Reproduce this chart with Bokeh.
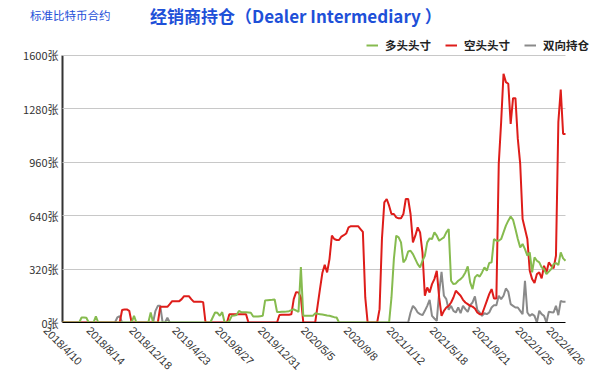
import pandas as pd
from bokeh.plotting import figure
from bokeh.layouts import column
from bokeh.models import (Range1d, FixedTicker, Legend, LegendItem, ColumnDataSource,
                          LinearAxis, Div)
from bokeh.embed import file_html
from bokeh.resources import INLINE
import math

# ---- data (weekly, 2018/4/10 .. 2022/4/26) ----
start_date = "2018-04-10"
n_weeks = 212

long_pos = (
    [0]*8 + [30, 30, 28, 0, 0, 0, 36, 0] + [0]*14 + [40, 0] + [0]*5 + [60, 0]
    + [0]*24
    + [30, 60, 58, 40, 62, 0, 0, 10, 40, 42, 45, 69, 62, 62, 62, 60, 58, 36, 36, 36, 38, 40,
       132, 134, 135, 136, 138, 63, 63, 64, 65, 66, 68, 74, 79, 72, 63, 332, 40, 40, 40, 40, 40,
       55, 52, 50, 48, 45, 42, 40, 36, 32, 30, 0]
    + [0]*21
    + [150, 380, 520, 510, 480, 360, 380, 425, 430, 410, 380, 350, 330, 370, 400, 480, 504, 500,
       540, 520, 490, 500, 510, 540, 560, 250, 230, 234, 250, 260, 275, 300, 336, 240, 200, 270,
       285, 275, 300, 330, 310, 356, 360, 500, 490, 490, 500, 540, 580, 610, 635, 615, 560, 500,
       450, 470, 440, 400, 420, 300, 390, 370, 360, 330, 320, 290, 305, 320, 350, 356, 344, 420,
       384, 370]
)

short_pos = (
    [0]*25 + [75, 78, 78, 70, 0] + [0]*11
    + [94, 94, 94, 94, 110, 128, 128, 128, 128, 140, 158, 158, 158, 140, 125, 125, 125, 125, 122, 0]
    + [0]*9
    + [49, 49, 49, 49, 49, 49, 49, 49, 0] + [0]*12
    + [45, 47, 47, 47, 47, 49, 140, 182, 180, 150, 0] + [0]*5
    + [100, 200, 296, 346, 300, 380, 520, 500, 494, 494, 515, 523, 533, 570, 577, 577, 577, 577,
       560, 543, 150, 0] + [0]*4
    + [80, 500, 720, 740, 700, 650, 650, 630, 624, 624, 650, 740, 740, 650, 480, 520, 570, 540,
       420, 160, 210, 180, 230, 260, 310, 150, 40, 70, 90, 100, 120, 150, 190, 175, 160, 136, 120,
       110, 100, 95, 84, 60, 50, 50, 90, 130, 170, 200, 144, 144, 950, 1200, 1490, 1440, 1430,
       1190, 1344, 1344, 1100, 950, 620, 560, 500, 310, 260, 236, 290, 300, 264, 340, 300, 360,
       340, 324, 400, 1200, 1396, 1130, 1130, 880]
)

spread_pos = (
    [0]*23 + [30, 38, 0] + [0]*13 + [70, 100, 100, 0, 0, 28, 0]
    + [0]*100
    + [60, 100, 84, 60, 50, 44, 70, 100, 136, 40, 24, 10, 180, 304, 160, 140, 76, 100, 70, 60,
       90, 56, 100, 80, 64, 104, 120, 156, 76, 60, 40, 56, 50, 60, 90, 104, 104, 160, 140, 160,
       204, 184, 110, 100, 90, 90, 70, 50, 250, 60, 40, 50, 40, 0, 70, 50, 40, 0, 64, 62, 60,
       100, 44, 130, 124, 124, 60]
)

tick_idx = [0, 18, 36, 54, 72, 90, 108, 126, 144, 162, 180, 198, 211]
y_ticks = [0, 320, 640, 960, 1280, 1600]
series_names = ["多头头寸", "空头头寸", "双向持仓"]
title_main = "经销商持仓（Dealer Intermediary ）"
title_small = "标准比特币合约"

dates = pd.date_range(start_date, periods=n_weeks, freq="7D")
def fmt(d):
    return f"{d.year}/{d.month}/{d.day}"

src = ColumnDataSource(dict(
    i=list(range(n_weeks)),
    long=long_pos[:n_weeks],
    short=short_pos[:n_weeks],
    spread=spread_pos[:n_weeks],
))

# geometry: data area spans 62..565 px and 55..323 px; the frame is a bit larger
# (44..592 px, top 34 px) so that the legend and first date label fit inside it
last = n_weeks - 1
ppu = 503.0 / last
x_start = -18.0 / ppu
x_end = (592 - 62) / ppu
y_top = 1600
y_end = y_top * (323 - 34) / 268.0

TITLE_H = 30
p = figure(width=600, height=378 - TITLE_H, output_backend="svg", toolbar_location=None,
           x_range=Range1d(x_start, x_end), y_range=Range1d(0, y_end),
           min_border_left=44, min_border_right=8, min_border_top=34 - TITLE_H,
           min_border_bottom=55)
p.outline_line_color = None
p.background_fill_color = "white"

GREEN = "#86bb4f"
RED = "#de1d1a"
GRAY = "#8a8a8a"

r_spread = p.line("i", "spread", source=src, color=GRAY, line_width=2)
r_short = p.line("i", "short", source=src, color=RED, line_width=2)
r_long = p.line("i", "long", source=src, color=GREEN, line_width=2)

# main x axis: just the black line under the data
p.xaxis.ticker = FixedTicker(ticks=[])
p.xaxis.bounds = (0, last)
p.xaxis.axis_line_color = "black"
p.xaxis.axis_line_width = 1
p.xaxis.major_tick_line_color = None
p.xaxis.minor_tick_line_color = None
p.xaxis.major_tick_out = 0
p.xaxis.major_tick_in = 0

# date labels axis (labels start a little left of their week, as in the original)
shift = 7.1
p.extra_x_ranges = {"lab": Range1d(x_start + shift, x_end + shift)}
xlab = LinearAxis(x_range_name="lab")
xlab.ticker = FixedTicker(ticks=tick_idx)
xlab.major_label_overrides = {i: fmt(dates[i]) for i in tick_idx}
xlab.major_label_orientation = -math.pi / 4
xlab.major_label_text_font = "Liberation Sans"
xlab.major_label_text_font_size = "11px"
xlab.major_label_text_color = "#333333"
xlab.axis_line_color = None
xlab.major_tick_line_color = None
xlab.minor_tick_line_color = None
xlab.major_tick_out = 0
xlab.major_tick_in = 0
xlab.major_label_standoff = 6
p.add_layout(xlab, "below")

# y axis labels (right edge just left of the data's start), line drawn by a grid line
p.yaxis.ticker = FixedTicker(ticks=y_ticks)
p.yaxis.major_label_overrides = {v: f"{v}张" for v in y_ticks}
p.yaxis.major_label_text_font = "Noto Sans CJK SC"
p.yaxis.major_label_text_font_size = "11px"
p.yaxis.major_label_text_color = "#333333"
p.yaxis.axis_line_color = None
p.yaxis.major_tick_line_color = None
p.yaxis.minor_tick_line_color = None
p.yaxis.major_tick_out = 0
p.yaxis.major_tick_in = 0
p.yaxis.major_label_standoff = -14

p.xgrid.ticker = FixedTicker(ticks=[0])
p.xgrid.grid_line_color = "#333333"
p.xgrid.grid_line_width = 2
p.ygrid.grid_line_color = "#c8c8c8"
p.ygrid.grid_line_width = 1
try:
    p.ygrid.cross_bounds = (0, last)
    p.xgrid.cross_bounds = (0, y_top)
except Exception:
    pass

legend = Legend(items=[
    LegendItem(label=series_names[0], renderers=[r_long]),
    LegendItem(label=series_names[1], renderers=[r_short]),
    LegendItem(label=series_names[2], renderers=[r_spread]),
], orientation="horizontal", location="top_right",
   label_text_font="Noto Sans CJK SC", label_text_font_style="bold",
   label_text_font_size="11.5px", label_text_color="#222222",
   glyph_width=12, glyph_height=12, spacing=14, padding=0, margin=3,
   background_fill_alpha=0, border_line_color=None, label_standoff=7)
p.add_layout(legend)

title_html = (
    '<div style="position:relative;width:600px;height:%dpx;">'
    '<span style="position:absolute;left:30px;top:7px;line-height:16px;white-space:nowrap;'
    'font-family:\'Noto Sans CJK SC\';font-size:11.5px;color:#1e50d8;">%s</span>'
    '<span style="position:absolute;left:150px;top:5px;line-height:22px;white-space:nowrap;'
    'font-family:\'Noto Sans CJK SC\';font-weight:bold;font-size:17px;color:#1e50d8;">%s</span>'
    '</div>' % (TITLE_H, title_small, title_main)
)
head = Div(text=title_html, width=600, height=TITLE_H, margin=0)

layout = column(head, p, spacing=0)
open("out.html", "w").write(file_html(layout, INLINE))
